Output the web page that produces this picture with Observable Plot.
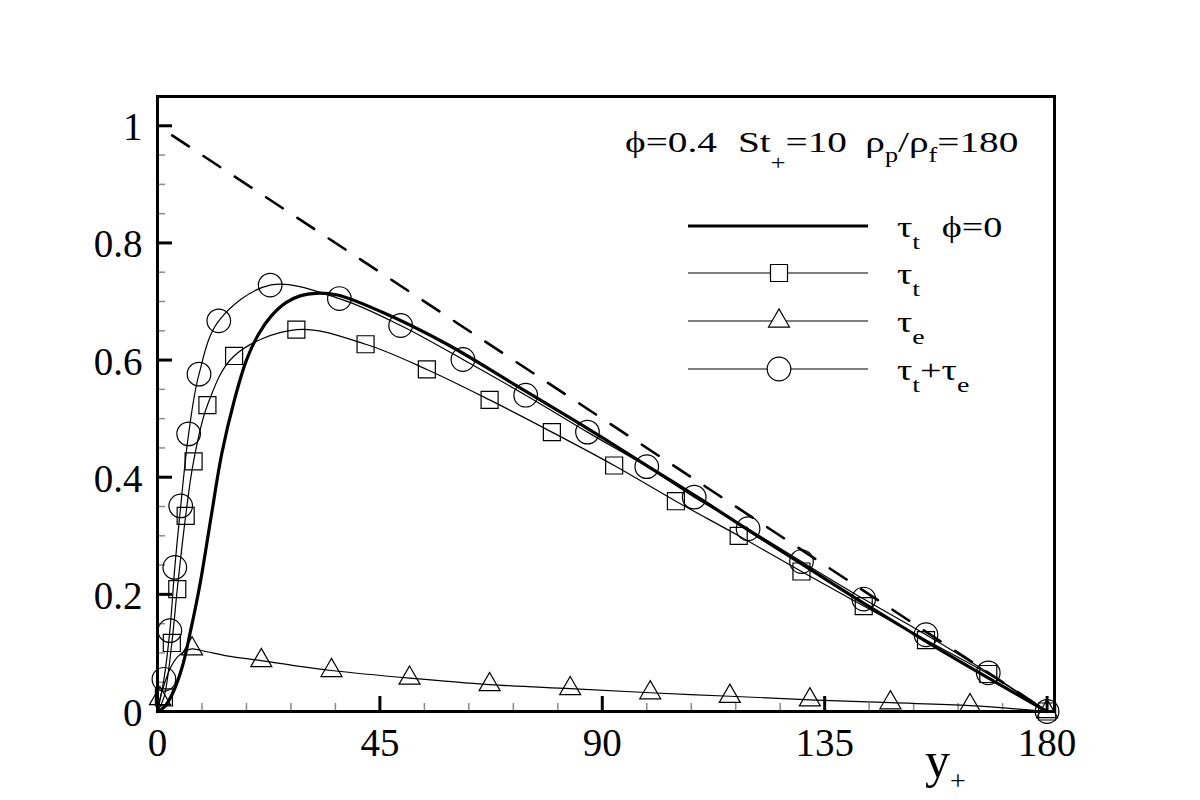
<!DOCTYPE html>
<html>
<head>
<meta charset="utf-8">
<script src="https://cdn.jsdelivr.net/npm/d3@7"></script>
<script src="https://cdn.jsdelivr.net/npm/@observablehq/plot@0.6"></script>
<style>
  html, body { margin: 0; padding: 0; background: #fff; }
  #chart svg { display: block; }
</style>
</head>
<body>
<div id="chart"></div>
<script>
// ---- Shear-stress budget across the channel half-width (wall units) ----

// Axis ticks
const xMajorTicks = [0, 45, 90, 135, 180];
const xMinorTicks = [9, 18, 27, 36, 54, 63, 72, 81, 99, 108, 117, 126, 144, 153, 162, 171];
const yMajorTicks = [0, 0.2, 0.4, 0.6, 0.8, 1];
const yMinorTicks = [0.05, 0.1, 0.15, 0.25, 0.3, 0.35, 0.45, 0.5, 0.55, 0.65, 0.7, 0.75, 0.85, 0.9, 0.95];

// Total stress (dashed)
const yPlusTotal = [0, 180];
const tauTotal = [1, 0];

// Turbulent stress, unladen flow (thick line)
const yPlusT0 = [0, 1.3, 3, 5, 6.7, 8.7, 10.8, 13, 15.5, 18, 20.5, 23, 26, 29, 32, 36.4, 45.4, 58.6, 72.1, 85.5, 99, 110, 121.9, 132, 142.1, 151, 160, 170, 180];
const tauT0   = [0, 0.007, 0.03, 0.076, 0.138, 0.222, 0.33, 0.44, 0.53, 0.6, 0.645, 0.675, 0.698, 0.71, 0.714, 0.711, 0.682, 0.627, 0.559, 0.491, 0.42, 0.362, 0.297, 0.243, 0.189, 0.143, 0.097, 0.048, 0];

// Turbulent stress, laden flow (squares)
const yPlusT = [1.3, 2.9, 4.0, 5.7, 7.3, 10.1, 15.5, 28.1, 42.1, 54.5, 67.2, 79.8, 92.4, 104.9, 117.6, 130.3, 142.9, 155.5, 168.1, 180];
const tauT   = [0.024, 0.117, 0.209, 0.334, 0.427, 0.523, 0.607, 0.652, 0.627, 0.584, 0.532, 0.477, 0.42, 0.359, 0.300, 0.239, 0.180, 0.122, 0.064, 0];

// Particle (extra) stress: markers and curve
const yPlusE = [0.5, 7, 21, 35.2, 51, 67.2, 83.5, 99.7, 115.8, 132, 148.3, 164.4, 180];
const tauE   = [0.022, 0.107, 0.087, 0.070, 0.057, 0.046, 0.039, 0.032, 0.026, 0.020, 0.015, 0.010, 0];
const yPlusECurve = [0, 0.5, 1.5, 2.7, 4, 5.5, 7, 10, 14, 21, 28, 35.2, 51, 67.2, 83.5, 99.7, 115.8, 132, 148.3, 164.4, 180];
const tauECurve   = [0, 0.022, 0.05, 0.076, 0.093, 0.103, 0.107, 0.102, 0.095, 0.087, 0.078, 0.070, 0.057, 0.046, 0.039, 0.032, 0.026, 0.020, 0.015, 0.010, 0];

// Sum of turbulent and particle stress (circles)
const yPlusSum = [1.3, 2.5, 3.5, 4.7, 6.3, 8.4, 12.4, 22.8, 36.8, 49.2, 61.8, 74.5, 87.0, 99, 108.6, 119.5, 130.3, 142.9, 155.5, 168.1, 180];
const tauSum   = [0.055, 0.138, 0.246, 0.351, 0.474, 0.576, 0.667, 0.728, 0.705, 0.659, 0.601, 0.540, 0.477, 0.418, 0.366, 0.312, 0.256, 0.192, 0.131, 0.066, 0];

const zip = (xs, ys) => xs.map((x, i) => ({x, y: ys[i]}));
const withWall = (xs, ys) => zip([0, ...xs], [0, ...ys]);

const serif = "'Liberation Serif', 'Times New Roman', 'DejaVu Serif', serif";
const thin = 1.2;
const rSquare = 9.6, rTriangle = 7.8, rCircle = 11.8;

const chart = Plot.plot({
  width: 1200,
  height: 800,
  marginLeft: 157,
  marginRight: 146,
  marginTop: 96,
  marginBottom: 89,
  style: {fontFamily: serif, background: "#fff", color: "#000"},
  x: {domain: [0, 181.5], axis: null, label: null},
  y: {domain: [0, 1.05], axis: null, label: null},
  marks: [
    // inward-pointing ticks
    Plot.axisX(xMinorTicks, {anchor: "bottom", tickSize: 8, dy: -8, stroke: "#8a8a8a", strokeWidth: 1.5, fill: "none", label: null}),
    Plot.axisX(xMajorTicks, {anchor: "bottom", tickSize: 15, dy: -15, stroke: "#000", strokeWidth: 3, fill: "none", label: null}),
    Plot.axisY(yMinorTicks, {anchor: "left", tickSize: 8, dx: 8, stroke: "#8a8a8a", strokeWidth: 1.5, fill: "none", label: null}),
    Plot.axisY(yMajorTicks, {anchor: "left", tickSize: 15, dx: 15, stroke: "#000", strokeWidth: 3, fill: "none", label: null}),
    // tick labels
    Plot.axisX(xMajorTicks, {anchor: "bottom", tickSize: 0, tickPadding: 17, fontSize: 39, fontFamily: serif, fill: "#000", label: null, tickFormat: d => String(d)}),
    Plot.axisY(yMajorTicks, {anchor: "left", tickSize: 0, tickPadding: 15, dy: 2, fontSize: 39, fontFamily: serif, fill: "#000", label: null, tickFormat: d => (d === 0 || d === 1) ? String(d) : d.toFixed(1)}),

    // curves
    Plot.line(zip(yPlusTotal, tauTotal), {x: "x", y: "y", stroke: "#000", strokeWidth: 2.6, strokeDasharray: "20,17.5", strokeDashoffset: 20}),
    Plot.line(zip(yPlusT0, tauT0), {x: "x", y: "y", stroke: "#000", strokeWidth: 3.2, curve: "catmull-rom"}),
    Plot.line(withWall(yPlusT, tauT), {x: "x", y: "y", stroke: "#000", strokeWidth: thin, curve: "catmull-rom"}),
    Plot.line(zip(yPlusECurve, tauECurve), {x: "x", y: "y", stroke: "#000", strokeWidth: thin, curve: "catmull-rom"}),
    Plot.line(withWall(yPlusSum, tauSum), {x: "x", y: "y", stroke: "#000", strokeWidth: thin, curve: "catmull-rom"}),

    // markers
    Plot.dot(zip(yPlusT, tauT), {x: "x", y: "y", symbol: "square", r: rSquare, stroke: "#000", fill: "none", strokeWidth: thin}),
    Plot.dot(zip(yPlusE, tauE), {x: "x", y: "y", symbol: "triangle", r: rTriangle, stroke: "#000", fill: "none", strokeWidth: thin}),
    Plot.dot(zip(yPlusSum, tauSum), {x: "x", y: "y", symbol: "circle", r: rCircle, stroke: "#000", fill: "none", strokeWidth: thin}),

    Plot.frame({stroke: "#000", strokeWidth: 3})
  ]
});

document.getElementById("chart").appendChild(chart);

// ---- rich text (sub-scripts), legend and axis title drawn into the same SVG ----
const svg = d3.select(chart);
const g = svg.append("g")
  .attr("font-family", serif)
  .attr("fill", "#000")
  .attr("text-anchor", "start");

// write a sequence of [text, size, baselineShift, gapBefore] runs at (x, y),
// optionally widened horizontally by `stretch`
function richText(x, y, runs, stretch = 1) {
  const t = g.append("text")
    .attr("x", 0).attr("y", 0)
    .attr("transform", `translate(${x},${y}) scale(${stretch},1)`);
  let prev = 0;
  for (const [s, size, shift = 0, gap = 0] of runs) {
    t.append("tspan")
      .attr("font-size", size)
      .attr("dy", shift - prev)
      .attr("dx", gap)
      .text(s);
    prev = shift;
  }
  return t;
}

// axis title y+
richText(925, 777, [["y", 50], ["+", 28, 13]]);

// parameter annotation
richText(625, 152, [
  ["\u03D5=0.4", 30], ["St", 30, 0, 16], ["+", 20, 18], ["=10", 30, 0],
  ["\u03C1", 30, 0, 14], ["p", 20, 10], ["/\u03C1", 30, 0], ["f", 20, 10], ["=180", 30, 0]
], 1.31);

// legend
const legX0 = 688, legX1 = 868, legMark = 779, legText = 897;
const legend = [
  {y: 226, width: 3.2, symbol: null, runs: [["\u03C4", 30], ["t", 22, 12], ["\u03D5=0", 30, 0, 17]]},
  {y: 273, width: thin, symbol: d3.symbolSquare, r: rSquare, runs: [["\u03C4", 30], ["t", 22, 12]]},
  {y: 321, width: thin, symbol: d3.symbolTriangle, r: rTriangle, runs: [["\u03C4", 30], ["e", 22, 12]]},
  {y: 369, width: thin, symbol: d3.symbolCircle, r: rCircle, runs: [["\u03C4", 30], ["t", 22, 12], ["+\u03C4", 30, 0], ["e", 22, 12]]}
];
for (const item of legend) {
  g.append("line")
    .attr("x1", legX0).attr("x2", legX1)
    .attr("y1", item.y).attr("y2", item.y)
    .attr("stroke", "#000").attr("stroke-width", item.width);
  if (item.symbol) {
    g.append("path")
      .attr("d", d3.symbol(item.symbol, Math.PI * item.r * item.r)())
      .attr("transform", `translate(${legMark},${item.y})`)
      .attr("fill", "#fff").attr("stroke", "#000").attr("stroke-width", thin);
  }
  richText(legText, item.y + 11, item.runs, 1.27);
}
</script>
</body>
</html>
